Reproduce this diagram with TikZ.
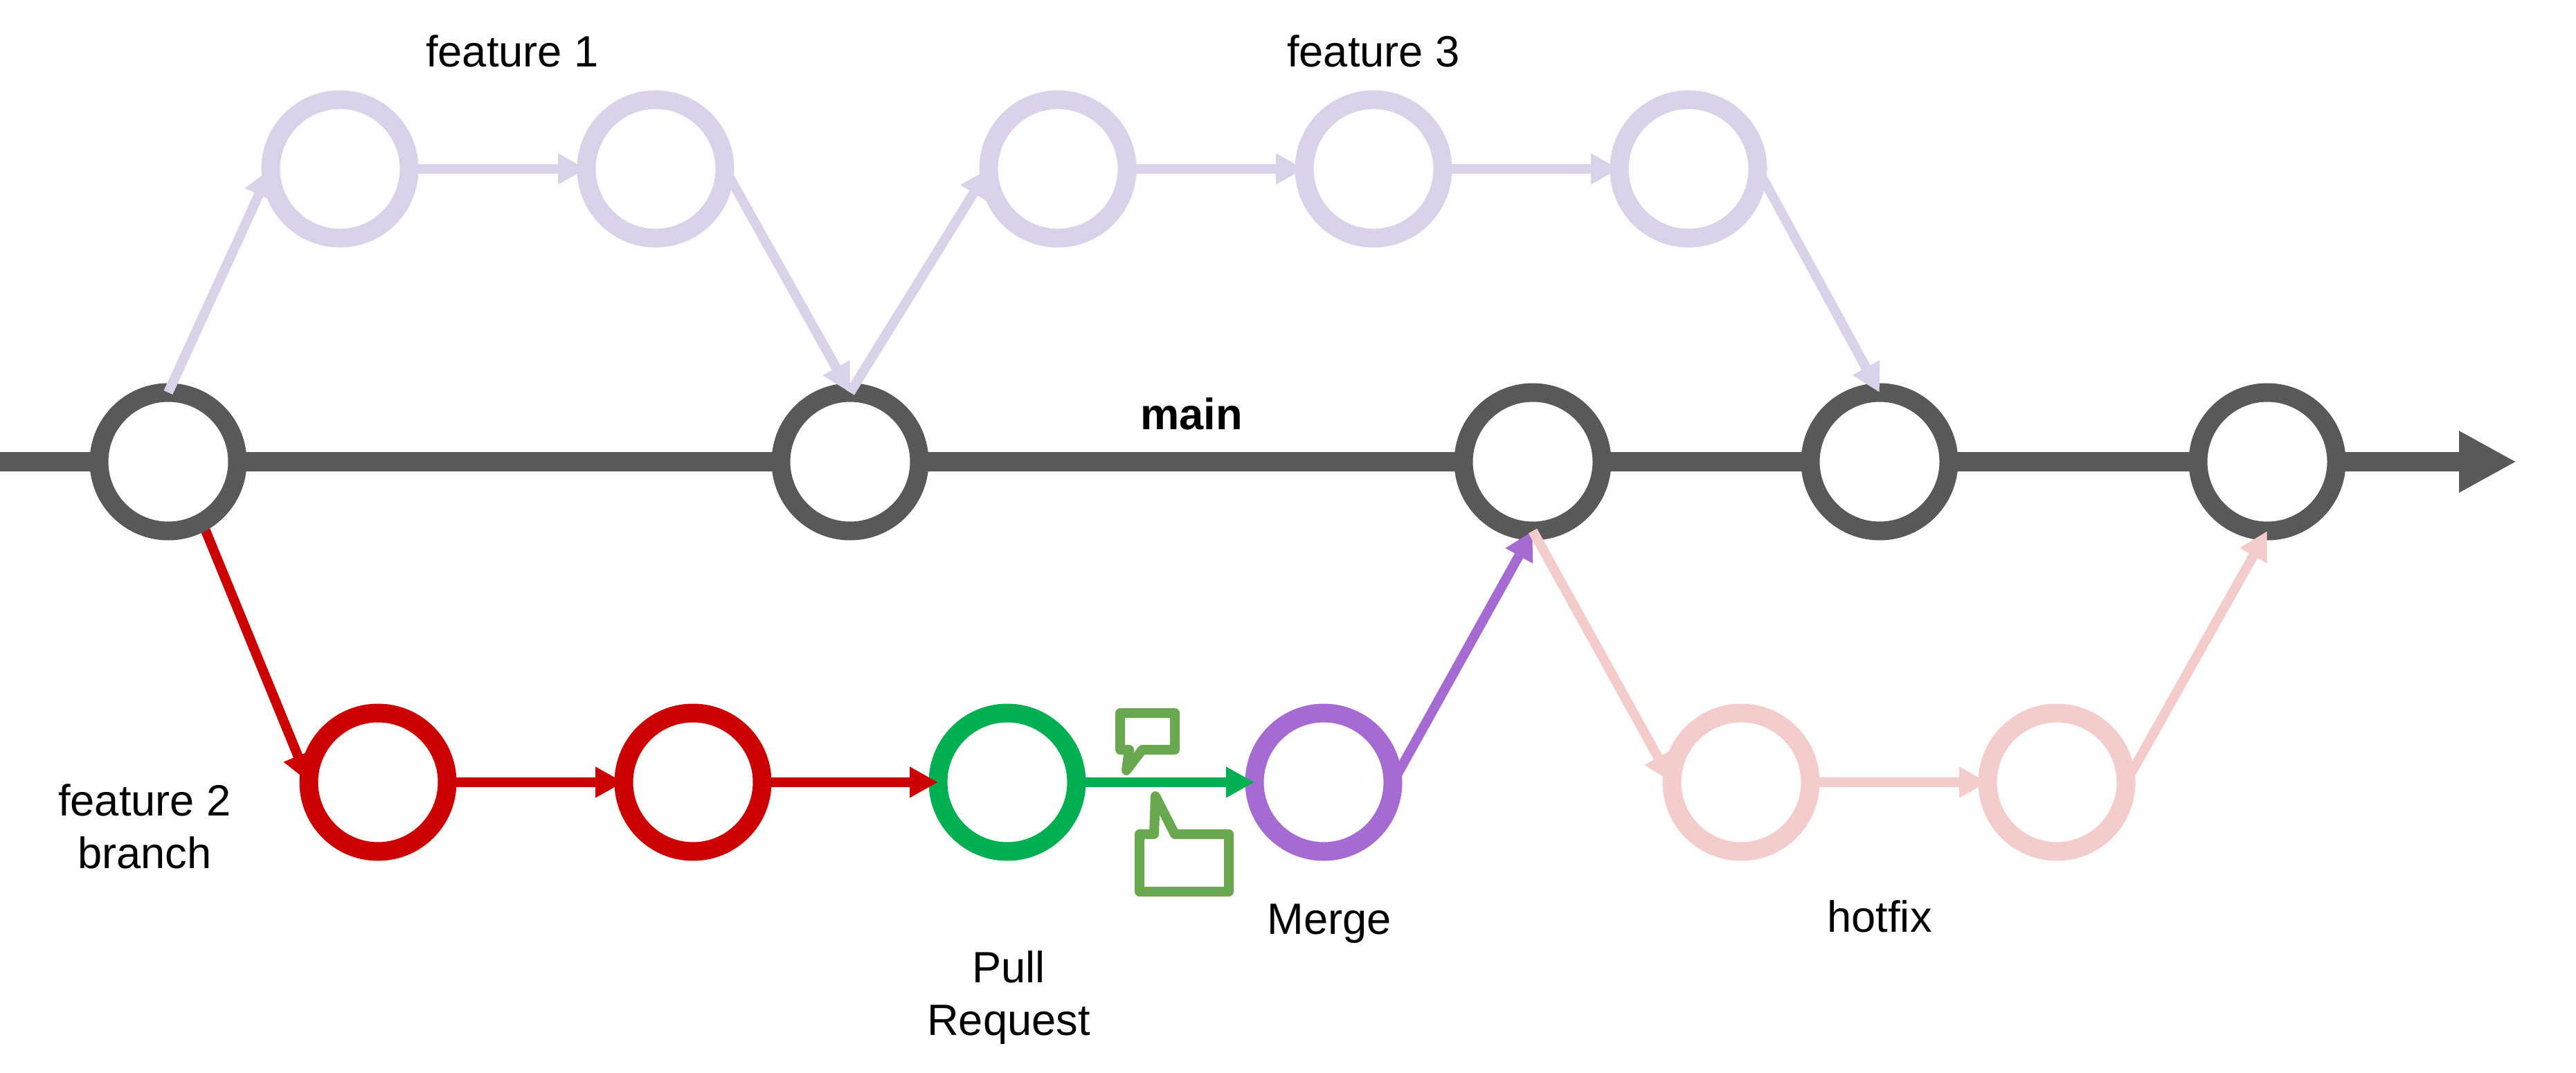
\documentclass[tikz,border=0pt]{standalone}
\usepackage{fontspec}
\setmainfont{Liberation Sans}
\usetikzlibrary{arrows.meta}
\definecolor{maingray}{HTML}{595959}
\definecolor{featlilac}{HTML}{D9D2E9}
\definecolor{branchred}{HTML}{CC0000}
\definecolor{prgreen}{HTML}{00AF50}
\definecolor{mergepurple}{HTML}{A66BD3}
\definecolor{fixpink}{HTML}{F4CCCC}
\definecolor{bubblegreen}{HTML}{6AA84F}
\begin{document}
\begin{tikzpicture}[
            commit/.style={circle, draw, fill=white, line width=0.27cm, minimum size=2cm, inner sep=0pt, outer sep=0pt},
            link/.style={line width=0.14cm, -{Triangle[length=0.41cm,width=0.42cm]}},
            main line/.style={line width=0.275cm, maingray},
            main commit/.style={commit, draw=maingray},
            feature commit/.style={commit, draw=featlilac},
            red commit/.style={commit, draw=branchred},
            hotfix commit/.style={commit, draw=fixpink},
            bubble/.style={draw=bubblegreen, line width=0.14cm, line join=round},
            every node/.style={align=center,font=\fontsize{18}{21.6}\selectfont}
    ]
        \useasboundingbox (0,0) rectangle (37.21,15.49);

        % Branch below
        \coordinate (fork) at (2.89,8.02);
        \node[red commit] (red1) at (5.46,4.19) {};
        \draw[link, branchred] (fork) -- (red1.west);
        \node[red commit] (red2) at (10.01,4.19) {};
        \node[commit, draw=prgreen] (pull) at (14.55,4.19) {};
        \node[commit, draw=mergepurple] (merge) at (19.12,4.19) {};
        \node[hotfix commit] (fix1) at (25.15,4.19) {};
        \node[hotfix commit] (fix2) at (29.71,4.19) {};

        % Main line
        \node[main commit] (main1) at (2.43,8.82) {};
        \node[main commit] (main2) at (12.28,8.82) {};
        \node[main commit] (main3) at (22.14,8.82) {};
        \node[main commit] (main4) at (27.15,8.82) {};
        \node[main commit] (main5) at (32.75,8.82) {};
        \coordinate (start) at (0,8.82);
        \coordinate (end) at (36.35,8.82);

        % Features on top
        \node[feature commit] (feat1) at (4.91,13.05) {};
        \node[feature commit] (feat2) at (9.47,13.05) {};
        \node[feature commit] (feat3) at (15.28,13.05) {};
        \node[feature commit] (feat4) at (19.84,13.05) {};
        \node[feature commit] (feat5) at (24.39,13.05) {};

        % Labels
        \node (lab_f1) at (7.40,14.75) {feature 1};
        \node (lab_f3) at (19.84,14.75) {feature 3};
        \node (lab_main) at (17.21,9.51) {\textbf{main}};
        \node (lab_f2) at (2.09,3.55) {feature 2\\branch};
        \node (lab_pr) at (14.57,1.08) {Pull\\Request};
        \node (lab_merge) at (19.20,2.15) {Merge};
        \node (lab_fix) at (27.15,2.25) {hotfix};

        % Arrows
        \draw[main line] (start) -- (main1.west);
        \draw[main line] (main1.east) -- (main2.west);
        \draw[main line] (main2.east) -- (main3.west);
        \draw[main line] (main3.east) -- (main4.west);
        \draw[main line] (main4.east) -- (main5.west);
        \draw[main line, -{Triangle[length=0.83cm,width=0.83cm]}] (main5.east) -- (end);

        \draw[link, featlilac] (main1.north) -- (feat1.west);
        \draw[link, featlilac] (feat1.east) -- (feat2.west);
        \draw[link, featlilac] (feat2.east) -- (main2.north);
        \draw[link, featlilac] (main2.north) -- (feat3.west);
        \draw[link, featlilac] (feat3.east) -- (feat4.west);
        \draw[link, featlilac] (feat4.east) -- (feat5.west);
        \draw[link, featlilac] (feat5.east) -- (main4.north);

        \draw[link, branchred] (red1.east) -- (red2.west);
        \draw[link, branchred] (red2.east) -- (pull.west);
        \draw[link, prgreen] (pull.east) -- (merge.west);
        \draw[link, mergepurple] (merge.east) -- (main3.south);

        \draw[link, fixpink] (main3.south) -- (fix1.west);
        \draw[link, fixpink] (fix1.east) -- (fix2.west);
        \draw[link, fixpink] (fix2.east) -- (main5.south);

        % Comments on the pull request
        \draw[bubble] (16.18,5.19) -- (16.18,4.66) -- (16.31,4.66) -- (16.27,4.36) -- (16.50,4.66) -- (16.97,4.66) -- (16.97,5.19) -- cycle;
        \draw[bubble] (16.46,2.61) -- (16.46,3.44) -- (16.67,3.44) -- (16.69,3.99) -- (16.97,3.44) -- (17.75,3.44) -- (17.75,2.61) -- cycle;
    \end{tikzpicture}
\end{document}
